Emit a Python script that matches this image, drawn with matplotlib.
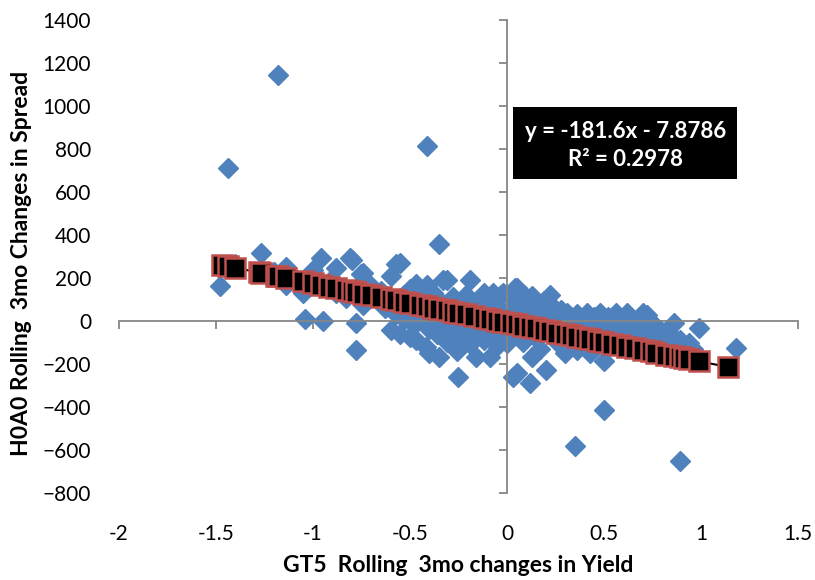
import matplotlib
matplotlib.use("Agg")
import matplotlib.pyplot as plt
from matplotlib.patches import Rectangle

# ---- data ----
gt5_change = [
    -1.48, -1.44, -1.40, -1.27, -1.18, -1.20, -1.14, -1.14, -1.10, -1.05, -1.04, -1.00, -0.96, -0.95, -0.92, -0.88,
    -0.88, -0.83, -0.81, -0.80, -0.78, -0.78, -0.75, -0.74, -0.74, -0.70, -0.68, -0.65, -0.63, -0.60, -0.60, -0.58,
    -0.57, -0.57, -0.55, -0.55, -0.53, -0.53, -0.50, -0.50, -0.50, -0.48, -0.48, -0.47, -0.47, -0.45, -0.45, -0.43, -0.43,
    -0.42, -0.42, -0.41, -0.41, -0.41, -0.40, -0.40, -0.40, -0.38, -0.38, -0.38, -0.36, -0.36, -0.36, -0.35, -0.35,
    -0.33, -0.33, -0.33, -0.31, -0.31, -0.31, -0.30, -0.30, -0.28, -0.28, -0.26, -0.26, -0.25, -0.25, -0.23, -0.23, -0.23,
    -0.21, -0.21, -0.19, -0.19, -0.19, -0.17, -0.17, -0.16, -0.16, -0.14, -0.14, -0.12, -0.12, -0.12, -0.10, -0.10,
    -0.09, -0.09, -0.07, -0.07, -0.07, -0.05, -0.05, -0.03, -0.03, -0.03, -0.02, -0.02, -0.01, -0.01,
    0.00, 0.00, 0.02, 0.02, 0.03, 0.03, 0.04, 0.04, 0.05, 0.05, 0.05, 0.06, 0.06, 0.08, 0.08, 0.09, 0.09,
    0.10, 0.10, 0.12, 0.12, 0.13, 0.13, 0.13, 0.15, 0.15, 0.17, 0.17, 0.19, 0.19, 0.20, 0.20, 0.22, 0.22,
    0.24, 0.24, 0.26, 0.26, 0.28, 0.28, 0.30, 0.30, 0.31, 0.31, 0.33, 0.33, 0.35, 0.35, 0.36, 0.36,
    0.38, 0.38, 0.40, 0.40, 0.41, 0.41, 0.43, 0.43, 0.45, 0.45, 0.47, 0.47, 0.48, 0.48, 0.50, 0.50, 0.50,
    0.52, 0.52, 0.54, 0.54, 0.56, 0.56, 0.58, 0.58, 0.60, 0.60, 0.62, 0.62, 0.64, 0.64, 0.66, 0.66,
    0.68, 0.68, 0.70, 0.70, 0.72, 0.72, 0.74, 0.74, 0.75, 0.77, 0.77, 0.79, 0.79, 0.82, 0.84, 0.86, 0.86,
    0.89, 0.89, 0.91, 0.94, 0.96, 0.99, 1.18,
]
h0a0_change = [
    163, 708, 265, 314, 1143, 225, 252, 167, 200, 131, 8, 237, 291, 1, 180, 245,
    128, 105, 291, 283, -11, -135, 217, 222, 74, 160, 120, 140, 60, 206, -42, 95,
    265, 30, 268, -60, 120, 10, -73, 80, 150, 40, -20, -88, 170, 60, 110, -10, 150,
    20, -120, 813, 167, 36, -150, 90, -40, 60, 0, 130, -60, 20, 100, 358, -166,
    190, 80, -30, 190, 40, -100, -60, 10, 110, -20, 60, -140, -259, 30, -80, 90, 0,
    120, -40, 190, 20, -110, -20, 60, -166, 40, 100, -60, 128, 0, -90, 50, -30,
    -166, 20, 128, -50, 70, -119, 10, 120, -20, -70, 128, 40, -10, -90,
    -102, 30, 60, -40, -259, 100, 153, -10, 152, -243, -60, 20, 90, -30, -100, 60, 120,
    -70, 0, -290, 40, -166, 113, -20, 50, -80, 10, -130, 90, -40, -228, 20, 121, -60,
    0, 60, -100, 30, -20, 50, -150, 10, 37, -60, -30, 20, -581, -80, -135, 30,
    -10, -50, 10, -100, 37, -30, -150, 0, -60, 20, -20, -90, 37, -50, -414, -189, -10,
    -70, 20, -40, -110, 37, -60, -20, -90, -50, 10, 37, -110, -70, -10, -30, -120,
    -80, 0, 37, -50, 28, -100, -60, -130, -11, -80, -30, -42, -130, -100, -60, -11, -140,
    -88, -651, -120, -102, -130, -34, -125,
]

# fitted values (squares)
fit_x = [-1.47, -1.44, -1.40, -1.28, -1.27, -1.19, -1.18, -1.14, -1.05, -1.00, -0.96, -0.92,
         -0.88, -0.83, -0.80, -0.78, -0.74, -0.70, -0.65, -0.60, -0.57, -0.53, -0.50, -0.45,
         -0.41, -0.38, -0.35, -0.31, -0.28, -0.25, -0.21, -0.17, -0.12, -0.09, -0.05, -0.02,
         0.02, 0.05, 0.08, 0.12, 0.15, 0.19, 0.22, 0.26, 0.30, 0.33, 0.36, 0.40, 0.43, 0.47,
         0.50, 0.54, 0.58, 0.62, 0.66, 0.70, 0.74, 0.77, 0.82, 0.86, 0.89, 0.91, 0.94, 0.99, 1.14]
fit_y = [259.1, 253.6, 246.4, 224.6, 222.8, 208.2, 206.4, 199.1, 182.8, 173.7, 166.5, 159.2,
         151.9, 142.8, 137.4, 133.8, 126.5, 119.2, 110.2, 101.1, 95.6, 88.4, 82.9, 73.8,
         66.6, 61.1, 55.7, 48.4, 43.0, 37.5, 30.3, 23.0, 13.9, 8.5, 1.2, -4.2,
         -11.5, -17.0, -22.4, -29.7, -35.1, -42.4, -47.8, -55.1, -62.4, -67.8, -73.3, -80.5, -86.0, -93.2,
         -98.7, -105.9, -113.2, -120.5, -127.7, -135.0, -142.3, -147.7, -156.8, -164.1, -169.5, -173.1, -178.6, -187.7, -215.0]

x_ticks = [-2, -1.5, -1, -0.5, 0, 0.5, 1, 1.5]
x_tick_labels = ["-2", "-1.5", "-1", "-0.5", "0", "0.5", "1", "1.5"]
y_ticks = [-800, -600, -400, -200, 0, 200, 400, 600, 800, 1000, 1200, 1400]

eq_line1 = "y = -181.6x - 7.8786"
eq_line2 = "R² = 0.2978"
x_label = "GT5  Rolling  3mo changes in Yield"
y_label = "H0A0 Rolling  3mo Changes in Spread"

# ---- figure ----
plt.rcParams['font.family'] = ['Lato', 'DejaVu Sans']
W, H = 815, 580
fig = plt.figure(figsize=(W / 100, H / 100), dpi=100)
ax = fig.add_axes([119 / W, 1 - 493 / H, (798 - 119) / W, (493 - 19.5) / H])

ax.plot(gt5_change, h0a0_change, linestyle='none', marker='D', markersize=10,
        color='#4F81BD', markeredgecolor='#4F81BD', zorder=2)
ax.plot(fit_x, fit_y, color='black', linewidth=1.5, marker='s', markersize=14,
        markerfacecolor='black', markeredgecolor='#C0504D', markeredgewidth=1.8, zorder=3)

ax.set_xlim(-2, 1.5)
ax.set_ylim(-800, 1400)
ax.set_xticks(x_ticks)
ax.set_xticklabels(x_tick_labels)
ax.set_yticks(y_ticks)

axis_col = '#868686'
ax.spines['left'].set_visible(False)
ax.spines['bottom'].set_visible(False)
ax.spines['right'].set_position(('data', 0))
ax.spines['top'].set_position(('data', 0))
for s in ('right', 'top'):
    ax.spines[s].set_color(axis_col)
    ax.spines[s].set_linewidth(1.3)

ax.tick_params(axis='y', left=False, right=True, labelleft=True, labelright=False,
               direction='in', length=6, width=1.3, color=axis_col, pad=20, labelsize=15)
ax.tick_params(axis='x', bottom=False, top=True, labelbottom=True, labeltop=False,
               direction='in', length=6, width=1.3, color=axis_col, pad=22, labelsize=15)

fig.text(458 / W, 1 - 566 / H, x_label, ha='center', va='center',
         fontsize=16.5, fontweight='bold')
fig.text(22 / W, 1 - 263 / H, y_label, ha='center', va='center', rotation=90,
         fontsize=16.5, fontweight='bold')

fig.patches.append(Rectangle((513 / W, 1 - 179 / H), (737 - 513) / W, (179 - 107) / H,
                             transform=fig.transFigure, facecolor='black', edgecolor='none'))
fig.text(626 / W, 1 - 131 / H, eq_line1, ha='center', va='center', color='white',
         fontsize=16, fontweight='bold')
fig.text(626 / W, 1 - 160 / H, eq_line2, ha='center', va='center', color='white',
         fontsize=16, fontweight='bold')

fig.savefig("out.png", dpi=100)
